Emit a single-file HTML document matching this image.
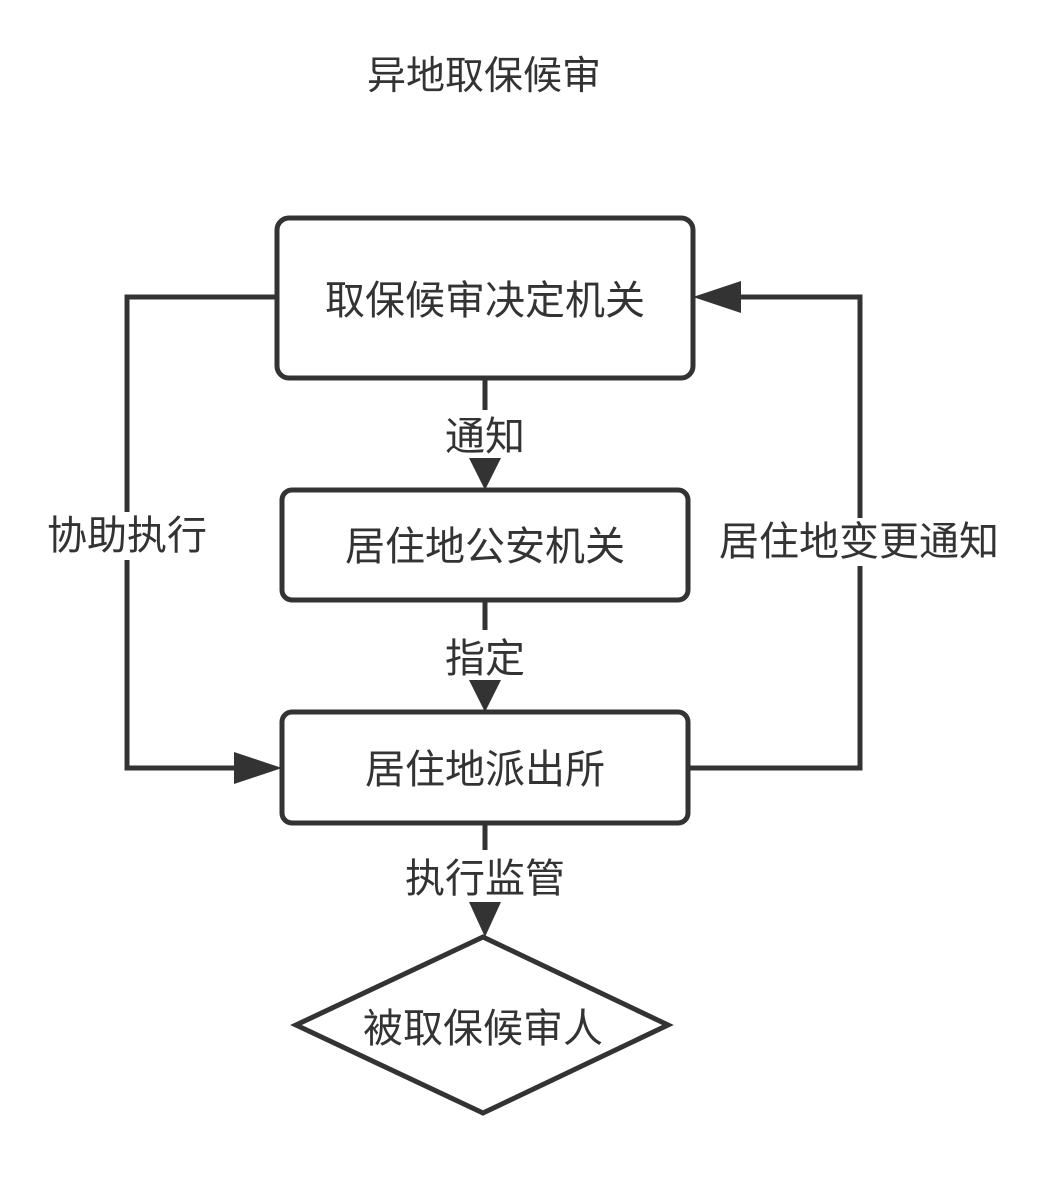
<!DOCTYPE html>
<html><head><meta charset="utf-8"><style>
body{margin:0;background:#fff;}
svg text{font-family:"Liberation Sans","Noto Sans CJK SC",sans-serif;fill:#333;}
</style></head><body>
<svg width="1045" height="1198" viewBox="0 0 1045 1198" xmlns="http://www.w3.org/2000/svg">
<text x="484" y="89" font-size="39" text-anchor="middle">异地取保候审</text>
<g stroke="#333" stroke-width="5" fill="none">
<rect x="277" y="218" width="416" height="160" rx="12"/>
<rect x="282" y="490" width="406" height="110" rx="10"/>
<rect x="282" y="712" width="406" height="111" rx="10"/>
<polygon points="483,937 668,1025 483,1113 296,1025" stroke-linejoin="miter"/>
<polyline points="277,297 127,297 127,768 245,768"/>
<polyline points="688,768 860,768 860,297 727,297"/>
<line x1="485" y1="378" x2="485" y2="410"/>
<line x1="485" y1="600" x2="485" y2="630"/>
<line x1="485" y1="823" x2="485" y2="850"/>
</g>
<g fill="#333">
<polygon points="282,768 234,752 234,784"/>
<polygon points="693,297 741,281 741,313"/>
<polygon points="485,490 469,458 501,458"/>
<polygon points="485,712 469,680 501,680"/>
<polygon points="485,937 469,902 501,902"/>
</g>
<g fill="#fff">
<rect x="44" y="512" width="166" height="48"/>
<rect x="716" y="518" width="286" height="48"/>
</g>
<g font-size="40" text-anchor="middle">
<text x="485" y="314">取保候审决定机关</text>
<text x="485" y="560">居住地公安机关</text>
<text x="485" y="783">居住地派出所</text>
<text x="483" y="1042">被取保候审人</text>
<text x="485" y="450">通知</text>
<text x="485" y="672">指定</text>
<text x="485" y="892">执行监管</text>
<text x="127" y="549">协助执行</text>
<text x="859" y="555">居住地变更通知</text>
</g>
</svg>
</body></html>
